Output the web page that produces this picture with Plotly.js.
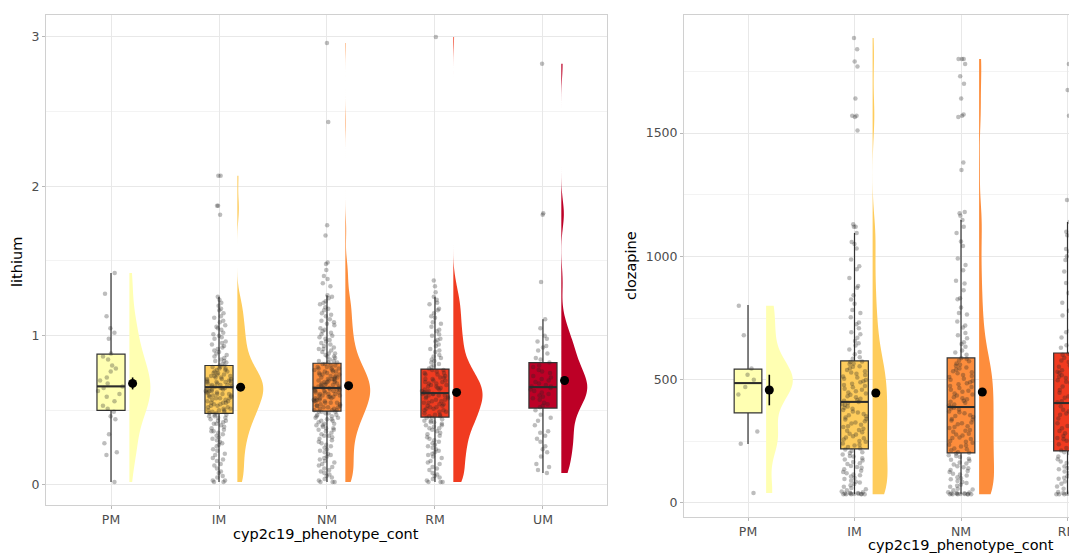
<!DOCTYPE html>
<html><head><meta charset="utf-8">
<script src="https://cdn.plot.ly/plotly-3.0.1.min.js"></script>
<style>html,body{margin:0;padding:0;background:#fff;}#chart{width:1069px;height:554px;}</style>
</head><body><div id="chart"></div>
<script>
// ---------------- data ----------------
const phenotypes = ['PM','IM','NM','RM','UM'];

// lithium samples per phenotype
const lithiumPM = [1.42,1.28,1.13,1.05,1.02,0.98,0.88,0.86,0.84,0.80,0.78,0.76,0.72,0.70,0.68,0.66,0.65,0.63,0.61,0.59,0.56,0.53,0.51,0.49,0.46,0.44,0.34,0.28,0.22,0.20,0.02];
const lithiumIM = [0.02,0.02,0.03,0.06,0.09,0.11,0.14,0.17,0.18,0.21,0.23,0.24,0.27,0.28,0.31,0.32,0.33,0.36,0.36,0.38,0.39,0.41,0.41,0.43,0.44,0.45,0.46,0.47,0.48,0.48,0.49,0.50,0.51,0.52,0.53,0.53,0.54,0.55,0.56,0.57,0.57,0.58,0.59,0.60,0.60,0.61,0.62,0.63,0.63,0.64,0.65,0.65,0.66,0.66,0.67,0.68,0.68,0.69,0.70,0.71,0.71,0.72,0.73,0.74,0.75,0.76,0.77,0.78,0.79,0.80,0.81,0.83,0.84,0.85,0.87,0.89,0.90,0.92,0.94,0.95,0.98,0.99,1.01,1.04,1.05,1.07,1.10,1.13,1.15,1.18,1.20,1.24,1.26,1.81,1.87,1.87,2.07,2.07,
  0.03,0.05,0.08,0.13,0.16,0.20,0.26,0.29,0.30,0.34,0.35,0.37,0.40,0.42,0.43,0.45,0.46,0.47,0.49,0.50,0.50,0.51,0.52,0.54,0.55,0.55,0.56,0.58,0.58,0.59,0.60,0.61,0.61,0.62,0.62,0.63,0.64,0.64,0.65,0.66,0.67,0.67,0.68,0.69,0.69,0.70,0.70,0.71,0.72,0.73,0.73,0.74,0.75,0.76,0.77,0.78,0.79,0.80,0.82,0.83,0.86,0.88,0.91,0.93,0.96,1.00,1.02,1.06,1.09,1.12,1.17,1.22];
const lithiumNM = [0.02,0.02,0.02,0.04,0.05,0.07,0.09,0.10,0.12,0.14,0.15,0.17,0.19,0.20,0.22,0.23,0.25,0.26,0.28,0.29,0.30,0.32,0.33,0.34,0.36,0.37,0.38,0.39,0.40,0.41,0.42,0.43,0.44,0.45,0.46,0.47,0.48,0.49,0.49,0.50,0.51,0.52,0.53,0.53,0.54,0.55,0.56,0.56,0.57,0.58,0.58,0.59,0.60,0.60,0.61,0.62,0.62,0.63,0.64,0.64,0.65,0.65,0.66,0.67,0.67,0.68,0.69,0.69,0.70,0.71,0.72,0.72,0.73,0.74,0.75,0.76,0.76,0.77,0.78,0.79,0.80,0.81,0.82,0.83,0.84,0.86,0.87,0.88,0.90,0.91,0.93,0.94,0.96,0.98,0.99,1.01,1.03,1.05,1.07,1.09,1.11,1.13,1.15,1.17,1.19,1.21,1.23,1.25,1.27,1.33,1.35,1.38,1.40,1.44,1.48,1.49,1.67,1.74,2.43,2.96,
  0.03,0.06,0.08,0.11,0.13,0.16,0.18,0.21,0.24,0.27,0.31,0.33,0.35,0.37,0.38,0.40,0.41,0.43,0.44,0.45,0.46,0.47,0.48,0.49,0.50,0.50,0.51,0.52,0.52,0.53,0.54,0.55,0.55,0.56,0.57,0.57,0.58,0.59,0.59,0.60,0.61,0.61,0.62,0.63,0.63,0.64,0.64,0.65,0.65,0.66,0.66,0.67,0.68,0.68,0.69,0.70,0.70,0.71,0.71,0.72,0.73,0.74,0.74,0.75,0.76,0.77,0.78,0.78,0.79,0.80,0.81,0.82,0.83,0.85,0.86,0.88,0.89,0.91,0.92,0.95,0.97,1.00,1.02,1.04,1.08,1.10,1.14,1.18,1.22,1.26];
const lithiumRM = [0.02,0.02,0.02,0.04,0.06,0.08,0.10,0.12,0.14,0.16,0.18,0.20,0.21,0.23,0.25,0.26,0.28,0.29,0.31,0.33,0.34,0.35,0.37,0.38,0.39,0.40,0.41,0.42,0.43,0.44,0.45,0.46,0.47,0.48,0.49,0.50,0.51,0.52,0.53,0.54,0.55,0.56,0.57,0.58,0.59,0.60,0.61,0.61,0.62,0.63,0.64,0.65,0.66,0.67,0.68,0.69,0.70,0.71,0.72,0.73,0.74,0.75,0.76,0.77,0.78,0.80,0.81,0.83,0.85,0.87,0.89,0.91,0.93,0.96,0.98,1.00,1.03,1.06,1.09,1.12,1.15,1.18,1.21,1.24,1.26,1.29,1.33,1.37,3.00,
  0.03,0.05,0.07,0.11,0.15,0.19,0.22,0.24,0.27,0.30,0.32,0.36,0.38,0.40,0.42,0.43,0.45,0.46,0.47,0.49,0.50,0.51,0.52,0.53,0.54,0.55,0.56,0.57,0.58,0.59,0.60,0.60,0.61,0.62,0.62,0.63,0.64,0.65,0.66,0.67,0.68,0.69,0.70,0.71,0.72,0.74,0.75,0.77,0.79,0.82,0.84,0.86,0.90,0.94,0.97,1.01,1.04,1.08,1.13,1.17,1.22];
const lithiumUM = [0.08,0.10,0.14,0.19,0.22,0.26,0.29,0.31,0.33,0.36,0.40,0.43,0.47,0.50,0.52,0.53,0.55,0.57,0.59,0.60,0.62,0.63,0.64,0.65,0.66,0.67,0.68,0.69,0.71,0.73,0.75,0.77,0.79,0.80,0.82,0.85,0.88,0.90,0.93,0.96,1.00,1.05,1.11,1.36,1.81,1.82,2.82,
  0.12,0.24,0.35,0.45,0.54,0.58,0.61,0.66,0.70,0.72,0.76,0.84,0.92,0.98];

const lithiumQ1     = [0.50, 0.48, 0.495, 0.455, 0.515];
const lithiumMedian = [0.66, 0.655, 0.65, 0.615, 0.655];
const lithiumQ3     = [0.876, 0.80, 0.815, 0.776, 0.82];
const lithiumLower  = [0.02, 0.02, 0.02, 0.02, 0.08];
const lithiumUpper  = [1.42, 1.26, 1.27, 1.26, 1.11];
const lithiumMean   = [0.68, 0.655, 0.665, 0.62, 0.70];
const lithiumSE     = [0.04, 0.012, 0.01, 0.012, 0.03];

// clozapine samples per phenotype (UM lies outside the visible area)
const clozapinePM = [40,240,290,440,470,500,520,545,680,800];
const clozapineIM = [35,35,35,36,37,38,40,42,47,56,61,72,77,86,90,102,107,116,121,131,137,146,150,161,166,176,181,191,197,206,211,221,227,236,241,251,257,266,271,281,287,296,301,311,317,326,331,341,347,356,361,371,377,386,391,401,409,414,423,429,439,444,453,459,469,474,483,489,499,504,513,519,529,534,546,554,566,574,591,603,622,638,657,670,692,708,732,753,782,808,842,873,912,948,987,1032,1058,1095,1120,1120,1130,1510,1565,1570,1570,1640,1770,1790,1840,1885,
  35,35,36,38,44,52,66,83,97,112,126,143,158,172,188,203,217,233,248,262,278,293,308,322,338,352,367,382,397,405,418,433,448,463,478,494,509,524,539,552,563,572,585,612,648,684,725,770,825,880,960,1050];
const clozapineNM = [35,35,35,35,36,38,39,41,44,52,58,66,74,81,89,96,104,111,119,126,134,141,149,156,164,171,179,186,194,201,206,214,221,229,236,244,251,259,266,274,281,289,296,304,311,319,326,334,341,349,356,364,371,379,386,391,399,406,414,421,429,436,444,451,459,466,474,481,489,496,504,511,519,526,534,541,549,556,566,578,588,601,618,633,652,668,689,711,736,764,793,826,862,901,944,991,1042,1095,1147,1165,1175,1180,1350,1380,1565,1570,1575,1640,1700,1730,1780,1800,1800,1800,
  35,35,36,37,43,55,70,85,100,115,130,145,160,175,190,204,218,233,248,263,278,293,308,323,338,353,368,383,395,410,425,440,455,470,485,500,515,530,545,560,575,585,610,645,680,720,770,830,890,965,1060,1120];
const clozapineRM = [35,35,35,36,38,41,47,58,67,78,87,98,108,117,128,137,148,157,168,177,188,197,206,213,223,232,243,252,263,272,283,292,303,312,323,332,343,352,363,372,383,392,401,408,418,427,438,447,458,467,478,487,498,507,518,527,538,547,558,567,578,589,601,612,629,648,671,692,718,748,779,812,851,892,938,985,1020,1030,1085,1139,1228,1570,1674,1780,
  35,35,37,45,62,82,102,122,142,162,182,202,218,238,258,278,298,318,338,358,378,398,412,432,452,472,492,512,532,552,572,592,605,640,700,760,830,910,1000,1100];

const clozapineQ1     = [365, 219, 203, 211];
const clozapineMedian = [486, 410, 389, 405];
const clozapineQ3     = [543, 576, 588, 608];
const clozapineLower  = [239, 35, 35, 35];
const clozapineUpper  = [803, 1095, 1147, 1139];
const clozapineMean   = [458, 446, 450, 455];
const clozapineSE     = [62, 14, 12, 14];

// ---------------- style ----------------
const fills = ['#FFFFB2','#FECC5C','#FD8D3C','#F03B20','#BD0026'];
const BOX_W = 0.26, VIOLIN_OFF = 0.17, MEAN_OFF = 0.2;
const lithiumViolinW   = [0.39, 0.48, 0.46, 0.54, 0.48];
const lithiumBW        = [0.12, 0.075, 0.07, 0.075, 0.09];
const clozapineViolinW = [0.50, 0.28, 0.28, 0.30];
const clozapineBW      = [75, 75, 75, 75];
const FONT = 'DejaVu Sans';

const traces = [];
function addPanel(samples, q1, med, q3, lo, hi, mean, se, vw, bw, xa, ya) {
  const pos = samples.map((_, i) => i + 1);
  samples.forEach((s, i) => {
    traces.push({type:'violin', xaxis:xa, yaxis:ya, y:s, x0:pos[i] + VIOLIN_OFF, side:'positive',
      width:vw[i], bandwidth:bw[i], points:false, box:{visible:false}, meanline:{visible:false}, spanmode:'hard',
      scalemode:'width', fillcolor:fills[i], line:{width:0, color:fills[i]}, opacity:1, hoverinfo:'skip'});
    traces.push({type:'box', xaxis:xa, yaxis:ya, x:[pos[i]], q1:[q1[i]], median:[med[i]], q3:[q3[i]],
      lowerfence:[lo[i]], upperfence:[hi[i]], width:BOX_W, whiskerwidth:0, boxpoints:false,
      fillcolor:fills[i], line:{color:'#333333', width:1.2}, hoverinfo:'skip'});
    traces.push({type:'box', xaxis:xa, yaxis:ya, y:s, x0:pos[i], width:BOX_W, boxpoints:'all',
      jitter:0.95, pointpos:0, fillcolor:'rgba(0,0,0,0)', line:{width:0, color:'rgba(0,0,0,0)'},
      marker:{color:'rgba(35,35,35,0.3)', size:4.5, line:{width:0}}, hoverinfo:'skip'});
    // thicker median bar drawn over the points
    traces.push({type:'scatter', mode:'lines', xaxis:xa, yaxis:ya,
      x:[pos[i] - BOX_W / 2, pos[i] + BOX_W / 2], y:[med[i], med[i]],
      line:{color:'#2b2b2b', width:2}, hoverinfo:'skip'});
  });
  traces.push({type:'scatter', mode:'markers', xaxis:xa, yaxis:ya,
    x:pos.map(p => p + MEAN_OFF), y:mean,
    error_y:{type:'data', array:se, color:'#000', thickness:1.6, width:0},
    marker:{color:'#000', size:9}, hoverinfo:'skip'});
}
addPanel([lithiumPM, lithiumIM, lithiumNM, lithiumRM, lithiumUM], lithiumQ1, lithiumMedian, lithiumQ3,
  lithiumLower, lithiumUpper, lithiumMean, lithiumSE, lithiumViolinW, lithiumBW, 'x', 'y');
addPanel([clozapinePM, clozapineIM, clozapineNM, clozapineRM], clozapineQ1, clozapineMedian, clozapineQ3,
  clozapineLower, clozapineUpper, clozapineMean, clozapineSE, clozapineViolinW, clozapineBW, 'x2', 'y2');

const W = 1069, H = 554;
const tickFont = {family:FONT, size:12.5, color:'#4d4d4d'};
const common = {showgrid:true, gridcolor:'#e8e8e8', gridwidth:1, zeroline:false, showline:true,
  linecolor:'#d0d0d0', linewidth:1, ticks:'outside', ticklen:3, tickcolor:'#b8b8b8', tickfont:tickFont,
  type:'linear', fixedrange:true};
const xTicks = {tickmode:'array', tickvals:phenotypes.map((_, i) => i + 1), ticktext:phenotypes, ticklabeloverflow:'allow'};

const titleFont = {family:FONT, size:14.5, color:'#000'};
function ann(text, px, py, angle) {
  return {text:text, xref:'paper', yref:'paper', x:px / W, y:(H - py) / H, xanchor:'center', yanchor:'middle',
    showarrow:false, textangle:angle || 0, font:titleFont};
}
const layout = {
  width:W, height:H, margin:{l:0, r:0, t:0, b:0}, showlegend:false,
  paper_bgcolor:'#fff', plot_bgcolor:'#fff', boxmode:'overlay', violinmode:'overlay',
  xaxis:Object.assign({}, common, xTicks, {domain:[46/W, 607/W], range:[0.398, 5.593], anchor:'y', mirror:true}),
  yaxis:Object.assign({}, common, {domain:[(H-505)/H, (H-15)/H], range:[-0.134, 3.147], tick0:0, dtick:1,
    minor:{dtick:0.5, showgrid:true, gridcolor:'#f3f3f3'}, anchor:'x', mirror:true}),
  xaxis2:Object.assign({}, common, xTicks, {domain:[684/W, 1], range:[0.399, 4.014], anchor:'y2', mirror:true}),
  yaxis2:Object.assign({}, common, {domain:[(H-517)/H, (H-15)/H], range:[-56.8, 1978.4], tick0:0, dtick:500,
    minor:{dtick:250, showgrid:true, gridcolor:'#f3f3f3'}, anchor:'x2', mirror:false}),
  annotations:[
    ann('lithium', 17, 262, -90),
    ann('clozapine', 631, 266, -90),
    ann('cyp2c19_phenotype_cont', 326, 534),
    ann('cyp2c19_phenotype_cont', 961, 545)
  ]
};
Plotly.newPlot('chart', traces, layout, {staticPlot:true, displayModeBar:false});
</script></body></html>
